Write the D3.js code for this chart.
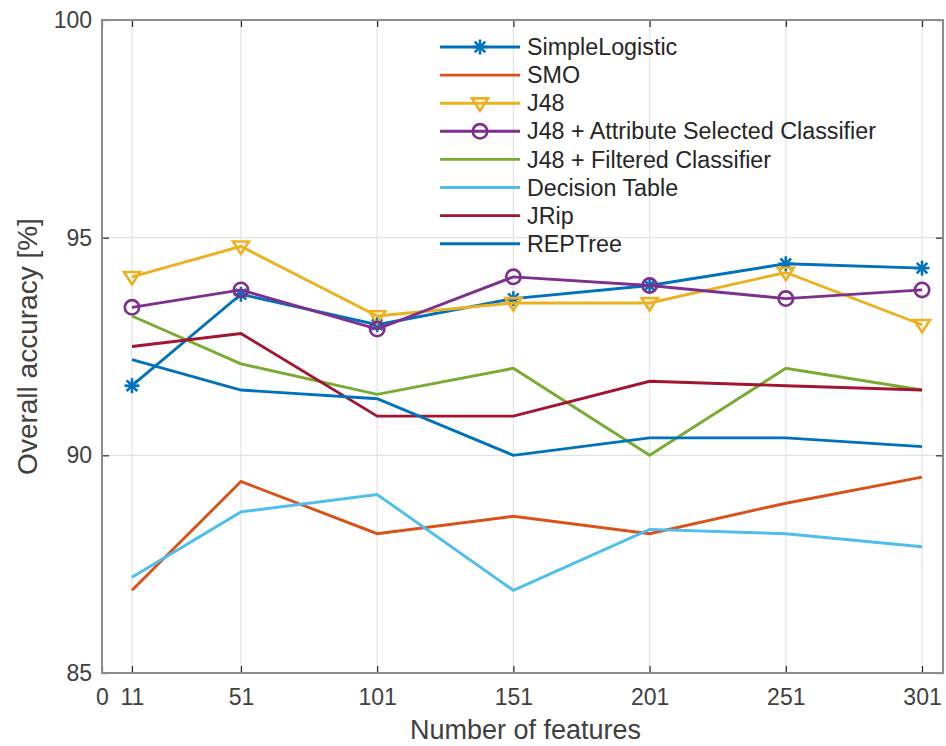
<!DOCTYPE html>
<html>
<head>
<meta charset="utf-8">
<script src="https://cdn.jsdelivr.net/npm/d3@7"></script>
<style>
  html, body { margin: 0; padding: 0; background: #fff; }
  svg { display: block; font-family: "Liberation Sans", Arial, Helvetica, sans-serif; }
</style>
</head>
<body>
<svg id="chart" width="946" height="746"></svg>
<script>
// ---- data ----
const features = [11, 51, 101, 151, 201, 251, 301];
const xTicks = [0, 11, 51, 101, 151, 201, 251, 301];
const yTicks = [85, 90, 95, 100];
const seriesNames = ["SimpleLogistic", "SMO", "J48", "J48 + Attribute Selected Classifier",
  "J48 + Filtered Classifier", "Decision Table", "JRip", "REPTree"];
const simpleLogistic = [91.6, 93.7, 93.0, 93.6, 93.9, 94.4, 94.3];
const smo            = [86.9, 89.4, 88.2, 88.6, 88.2, 88.9, 89.5];
const j48            = [94.1, 94.8, 93.2, 93.5, 93.5, 94.2, 93.0];
const j48ASC         = [93.4, 93.8, 92.9, 94.1, 93.9, 93.6, 93.8];
const j48FC          = [93.2, 92.1, 91.4, 92.0, 90.0, 92.0, 91.5];
const decisionTable  = [87.2, 88.7, 89.1, 86.9, 88.3, 88.2, 87.9];
const jrip           = [92.5, 92.8, 90.9, 90.9, 91.7, 91.6, 91.5];
const repTree        = [92.2, 91.5, 91.3, 90.0, 90.4, 90.4, 90.2];
const seriesValues = [simpleLogistic, smo, j48, j48ASC, j48FC, decisionTable, jrip, repTree];
const seriesColors = ["#0072BD", "#D95319", "#EDB120", "#7E2F8E", "#77AC30", "#4DBEEE", "#A2142F", "#0072BD"];
const seriesMarkers = ["asterisk", null, "triangleDown", "circle", null, null, null, null];

(function () {
// ---- layout ----
const pL = 102, pR = 943, pT = 20, pB = 673;
const svg = d3.select("#chart");
const x = d3.scaleLinear().domain([0, 308.7]).range([pL, pR]);
const y = d3.scaleLinear().domain([85, 100]).range([pB, pT]);

// grid
const grid = svg.append("g");
grid.selectAll("line.gx").data(xTicks).enter().append("line")
  .attr("x1", d => x(d)).attr("x2", d => x(d)).attr("y1", pT).attr("y2", pB)
  .attr("stroke", "#e3e3e3").attr("stroke-width", 1.2);
grid.selectAll("line.gy").data(yTicks).enter().append("line")
  .attr("y1", d => y(d)).attr("y2", d => y(d)).attr("x1", pL).attr("x2", pR)
  .attr("stroke", "#e3e3e3").attr("stroke-width", 1.2);

// axes via d3 axis
const tickColor = "#262626";
const fontTick = 23;
const xAxis = svg.append("g").attr("transform", `translate(0,${pB})`)
  .call(d3.axisBottom(x).tickValues(xTicks).tickSize(-7).tickPadding(16).tickFormat(d3.format("d")));
const yAxis = svg.append("g").attr("transform", `translate(${pL},0)`)
  .call(d3.axisLeft(y).tickValues(yTicks).tickSize(-7).tickPadding(10).tickFormat(d3.format("d")));
const xTop = svg.append("g").attr("transform", `translate(0,${pT})`)
  .call(d3.axisTop(x).tickValues(xTicks).tickSize(-7).tickFormat(""));
const yRight = svg.append("g").attr("transform", `translate(${pR},0)`)
  .call(d3.axisRight(y).tickValues(yTicks).tickSize(-7).tickFormat(""));
[xAxis, yAxis, xTop, yRight].forEach(g => {
  g.select(".domain").remove();
  g.selectAll(".tick line").attr("stroke", tickColor).attr("stroke-width", 1.2);
  g.selectAll(".tick text").attr("fill", "#404040").style("font-size", fontTick + "px")
    .style("font-family", '"Liberation Sans", Arial, sans-serif');
});

// box
svg.append("rect").attr("x", pL).attr("y", pT).attr("width", pR - pL).attr("height", pB - pT)
  .attr("fill", "none").attr("stroke", "#8c8c8c").attr("stroke-width", 2);

// axis titles
svg.append("text").attr("x", (pL + pR) / 2 + 3).attr("y", 739)
  .attr("text-anchor", "middle").attr("fill", "#404040").style("font-size", "27px")
  .text("Number of features");
svg.append("text").attr("transform", `translate(37,${(pT + pB) / 2}) rotate(-90)`)
  .attr("text-anchor", "middle").attr("fill", "#404040").style("font-size", "28px")
  .text("Overall accuracy [%]");

// markers
function drawMarker(g, type, cx, cy, color) {
  if (type === "asterisk") {
    const r = 7.5;
    [0, 45, 90, 135].forEach(a => {
      const rad = a * Math.PI / 180;
      g.append("line").attr("x1", cx - r * Math.cos(rad)).attr("y1", cy - r * Math.sin(rad))
        .attr("x2", cx + r * Math.cos(rad)).attr("y2", cy + r * Math.sin(rad))
        .attr("stroke", color).attr("stroke-width", 2.6);
    });
  } else if (type === "circle") {
    g.append("circle").attr("cx", cx).attr("cy", cy).attr("r", 7.2)
      .attr("fill", "none").attr("stroke", color).attr("stroke-width", 2.6);
  } else if (type === "triangleDown") {
    const s = 8;
    g.append("path").attr("d", `M${cx - s},${cy - s * 0.6}L${cx + s},${cy - s * 0.6}L${cx},${cy + s * 0.95}Z`)
      .attr("fill", "none").attr("stroke", color).attr("stroke-width", 2.6).attr("stroke-linejoin", "miter");
  }
}

// lines
const line = d3.line().x((d, i) => x(features[i])).y(d => y(d));
const plot = svg.append("g");
seriesValues.forEach((vals, si) => {
  const g = plot.append("g");
  g.append("path").datum(vals).attr("d", line).attr("fill", "none")
    .attr("stroke", seriesColors[si]).attr("stroke-width", 2.9).attr("stroke-linejoin", "miter");
  if (seriesMarkers[si]) {
    vals.forEach((v, i) => drawMarker(g, seriesMarkers[si], x(features[i]), y(v), seriesColors[si]));
  }
});

// legend (no box)
const legX0 = 440, legX1 = 520, legTextX = 527, legY0 = 47, legDy = 28.1;
const leg = svg.append("g");
seriesNames.forEach((name, i) => {
  const cy = legY0 + i * legDy;
  leg.append("line").attr("x1", legX0).attr("x2", legX1).attr("y1", cy).attr("y2", cy)
    .attr("stroke", seriesColors[i]).attr("stroke-width", 2.9);
  if (seriesMarkers[i]) drawMarker(leg, seriesMarkers[i], (legX0 + legX1) / 2, cy, seriesColors[i]);
  leg.append("text").attr("x", legTextX).attr("y", cy).attr("dy", "0.35em")
    .attr("fill", "#262626").style("font-size", "23.3px").text(name);
});
})();
</script>
</body>
</html>
